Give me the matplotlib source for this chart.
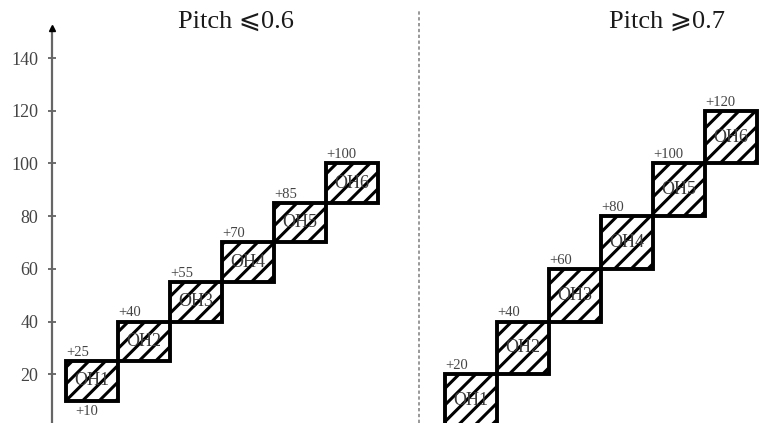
import matplotlib
matplotlib.use("Agg")
import matplotlib.pyplot as plt

# ---- data ----
zones = ["OH1", "OH2", "OH3", "OH4", "OH5", "OH6"]
left_bottom = [10, 25, 40, 55, 70, 85]
left_top = [25, 40, 55, 70, 85, 100]
right_bottom = [0, 20, 40, 60, 80, 100]
right_top = [20, 40, 60, 80, 100, 120]
yticks = [20, 40, 60, 80, 100, 120, 140]
titles = ["Pitch \u2a7d0.6", "Pitch \u2a7e0.7"]

plt.rcParams["hatch.linewidth"] = 2.2
serif = ["Liberation Serif", "DejaVu Serif", "DejaVu Sans"]

W, H = 774, 423
fig = plt.figure(figsize=(W / 100, H / 100), dpi=100)
ax_left_px, ax_top_px = 52, 28
ax = fig.add_axes([ax_left_px / W, 0, 1 - ax_left_px / W, (H - ax_top_px) / H])
ax.set_xlim(0, (W - ax_left_px) / 52)
ax.set_ylim(1.5, 151.4)

left_x0 = 0.27
right_x0 = 7.56

def draw_group(x0, bottoms, tops, show_bottom_label):
    xs = [x0 + i for i in range(len(zones))]
    heights = [t - b for t, b in zip(tops, bottoms)]
    ax.bar(xs, heights, bottom=bottoms, width=1.0, align="edge",
           facecolor="white", edgecolor="black", linewidth=2.8,
           hatch="//", zorder=2)
    for x, b, t, name in zip(xs, bottoms, tops, zones):
        ax.text(x + 0.5, (b + t) / 2, name, ha="center", va="center",
                fontsize=13, family=serif, color="#3a3a3a", zorder=3)
        ax.annotate(f"+{t}", (x, t), xytext=(0, 1.5), textcoords="offset points",
                    ha="left", va="bottom", fontsize=10.5, family=serif,
                    color="#444444")
    if show_bottom_label:
        ax.annotate(f"+{bottoms[0]}", (xs[0] + 0.17, bottoms[0]), xytext=(0, -3),
                    textcoords="offset points", ha="left", va="top",
                    fontsize=10.5, family=serif, color="#444444")

draw_group(left_x0, left_bottom, left_top, True)
draw_group(right_x0, right_bottom, right_top, False)

# separator
sep_x = (419 - ax_left_px) / 52
ax.plot([sep_x, sep_x], [1.5, 158], color="#888888", linestyle=(0, (2, 1.5)),
        linewidth=1.2, clip_on=False)

# titles
fig.text(236 / W, 1 - 22 / H, titles[0], ha="center", va="center",
         fontsize=19, family=serif, color="#1a1a1a")
fig.text(667 / W, 1 - 22 / H, titles[1], ha="center", va="center",
         fontsize=19, family=serif, color="#1a1a1a")

# axes styling
for s in ["top", "right", "bottom"]:
    ax.spines[s].set_visible(False)
ax.spines["left"].set_color("#666666")
ax.spines["left"].set_linewidth(1.6)
ax.set_xticks([])
ax.set_yticks(yticks)
ax.set_yticklabels([str(v) for v in yticks], family=serif, fontsize=13,
                   color="#333333")
ax.tick_params(axis="y", direction="inout", length=6, width=1.2,
               colors="#555555", labelcolor="#444444", pad=7)
ax.plot([0], [151.4], marker="^", color="black", markersize=5,
        clip_on=False, zorder=4)

fig.savefig("out.png", dpi=100)
